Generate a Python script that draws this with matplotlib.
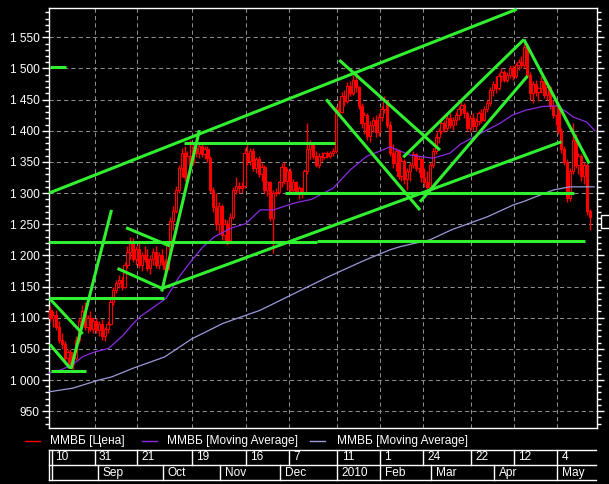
import matplotlib
matplotlib.use('Agg')
import matplotlib.pyplot as plt
from matplotlib.lines import Line2D
from matplotlib.patches import Rectangle
from matplotlib.ticker import MultipleLocator, FixedLocator, FuncFormatter

# ---------------- data (daily candles, bar index 0..189) ----------------
opens = [1112,1100,1105,1085,1065,1058,1035,1045,1025,1035,1065,1095,1110,1085,1100,1082,1095,1080,1090,1070,
         1082,1090,1125,1145,1155,1160,1150,1185,1205,1220,1195,1210,1185,1200,1195,1180,1195,1205,1185,1200,
         1190,1178,1218,1255,1272,1305,1340,1365,1325,1360,1350,1372,1365,1375,1362,1370,1356,1305,1278,1250,
         1280,1232,1250,1225,1262,1305,1312,1308,1312,1365,1352,1368,1340,1355,1330,1342,1305,1318,1260,1300,
         1302,1318,1342,1320,1335,1305,1318,1302,1308,1300,1335,1370,1380,1360,1345,1360,1358,1364,1360,1365,
         1368,1435,1430,1455,1448,1472,1460,1482,1470,1440,1412,1425,1392,1410,1418,1398,1422,1435,1448,1410,
         1365,1348,1368,1328,1352,1322,1335,1345,1362,1340,1355,1325,1318,1310,1345,1368,1390,1400,1412,1405,
         1420,1410,1418,1425,1435,1442,1428,1405,1420,1408,1415,1428,1418,1435,1445,1465,1475,1468,1488,1495,
         1482,1490,1500,1488,1505,1510,1505,1535,1490,1460,1475,1462,1468,1480,1458,1470,1440,1425,1440,1400,
         1370,1350,1292,1335,1385,1345,1360,1328,1345,1272]
highs = [1118,1110,1112,1095,1075,1062,1048,1050,1040,1070,1100,1120,1125,1105,1110,1100,1100,1095,1098,1085,
         1095,1130,1150,1160,1168,1165,1190,1215,1230,1228,1215,1220,1205,1215,1210,1200,1212,1215,1205,1210,
         1195,1222,1262,1280,1312,1345,1372,1375,1368,1385,1378,1385,1380,1382,1376,1375,1360,1310,1300,1285,
         1282,1258,1256,1268,1310,1325,1318,1318,1372,1378,1372,1372,1358,1360,1348,1345,1320,1320,1305,1308,
         1320,1348,1350,1340,1340,1322,1320,1312,1310,1338,1412,1385,1382,1368,1365,1366,1366,1368,1368,1372,
         1440,1450,1462,1465,1478,1480,1490,1492,1472,1445,1430,1428,1415,1422,1425,1428,1440,1455,1450,1415,
         1378,1372,1370,1358,1355,1340,1350,1368,1365,1360,1358,1340,1335,1350,1372,1395,1405,1420,1418,1425,
         1428,1422,1430,1440,1448,1445,1432,1425,1428,1420,1432,1435,1440,1450,1470,1480,1488,1492,1500,1498,
         1495,1505,1505,1508,1515,1520,1545,1540,1495,1480,1482,1470,1488,1485,1475,1472,1450,1445,1442,1405,
         1375,1355,1340,1412,1395,1365,1362,1350,1348,1275]
lows = [1095,1085,1080,1060,1050,1030,1025,1020,1018,1032,1060,1085,1080,1075,1078,1076,1075,1070,1065,1062,
        1075,1088,1120,1140,1148,1145,1148,1180,1195,1190,1185,1180,1175,1190,1175,1170,1185,1180,1178,1185,
        1170,1175,1215,1240,1268,1300,1325,1320,1318,1340,1345,1358,1356,1358,1355,1350,1300,1270,1240,1235,
        1225,1220,1217,1222,1258,1298,1300,1300,1308,1345,1345,1335,1332,1325,1320,1300,1295,1255,1204,1295,
        1298,1310,1315,1305,1300,1300,1298,1290,1292,1298,1330,1355,1355,1342,1340,1352,1355,1356,1356,1360,
        1365,1425,1428,1440,1445,1455,1458,1462,1435,1405,1395,1385,1382,1398,1390,1392,1415,1428,1405,1360,
        1340,1335,1322,1320,1315,1305,1320,1340,1335,1332,1318,1310,1302,1305,1340,1362,1380,1395,1398,1400,
        1405,1402,1410,1418,1425,1420,1400,1398,1402,1400,1410,1412,1415,1430,1440,1455,1460,1465,1478,1478,
        1478,1485,1482,1485,1498,1500,1500,1485,1450,1445,1455,1448,1460,1452,1450,1435,1420,1410,1395,1365,
        1345,1285,1288,1330,1340,1330,1320,1315,1265,1240]
closes = [1100,1105,1085,1065,1058,1035,1045,1025,1035,1065,1095,1110,1085,1100,1082,1095,1080,1090,1070,1082,
          1090,1125,1145,1155,1160,1150,1185,1205,1220,1195,1210,1185,1200,1195,1180,1195,1205,1185,1200,1190,
          1178,1218,1255,1272,1305,1340,1365,1325,1360,1350,1372,1365,1375,1362,1370,1356,1305,1278,1250,1280,
          1232,1250,1225,1262,1305,1312,1308,1312,1365,1352,1368,1340,1355,1330,1342,1305,1318,1260,1300,1302,
          1318,1342,1320,1335,1305,1318,1302,1308,1300,1335,1370,1380,1360,1345,1360,1358,1364,1360,1365,1368,
          1435,1430,1455,1448,1472,1460,1482,1470,1440,1412,1425,1392,1410,1418,1398,1422,1435,1448,1410,1365,
          1348,1368,1328,1352,1322,1335,1345,1362,1340,1355,1325,1318,1310,1345,1368,1390,1400,1412,1405,1420,
          1410,1418,1425,1435,1442,1428,1405,1420,1408,1415,1428,1418,1435,1445,1465,1475,1468,1488,1495,1482,
          1490,1500,1488,1505,1510,1505,1535,1490,1460,1475,1462,1468,1480,1458,1470,1440,1425,1440,1400,1370,
          1350,1292,1335,1385,1345,1360,1328,1345,1272,1262]

# moving averages (bar position, value)
ma_fast_x = [0, 4, 8, 12, 16, 21, 26, 29, 32, 37, 41, 45.5, 50, 54, 58, 64, 69, 74, 78.6, 86, 88, 92,
             99.6, 105.5, 111.3, 119.5, 126.5, 134.5, 140.5, 144, 153.4, 158, 162.3, 167, 173, 177.9,
             181.4, 183.7, 188.4, 191.3]
ma_fast_y = [1011, 1016, 1024, 1038, 1045, 1051, 1072, 1088, 1102, 1118, 1131, 1165, 1192, 1214, 1230, 1244,
             1251, 1273, 1273, 1284, 1286, 1290, 1308, 1337, 1359, 1374, 1361, 1356, 1364, 1378, 1401, 1412,
             1425, 1433, 1439, 1440, 1430, 1422, 1414, 1400]
ma_slow_x = [0, 8.4, 17.5, 22, 29.5, 40.5, 50, 61, 74, 86, 98, 110.5, 119.5, 123, 133.5, 141, 153.6,
             162.7, 166, 176.7, 182.5, 191]
ma_slow_y = [981, 987, 1000, 1005, 1019, 1037, 1066, 1091, 1112, 1139, 1166, 1192, 1209, 1214, 1225, 1241,
             1262, 1281, 1286, 1305, 1310, 1310]

# hand-drawn trend lines (x0, y0, x1, y1) in bar / price units
trendlines = [
    (0, 1300, 163.9, 1595), (0.3, 1502, 5.8, 1502), (47.3, 1381, 100.1, 1381),
    (0, 1222, 94, 1222), (94, 1223.5, 187.7, 1223.5), (82.6, 1299.5, 183.9, 1299.5),
    (0, 1131, 40.3, 1131), (0.6, 1015, 13.1, 1015), (0.35, 1130, 11.8, 1074),
    (0.35, 1057, 7.4, 1019), (7.7, 1017.6, 21.9, 1273), (27.0, 1244.4, 42.4, 1215),
    (24.0, 1179, 39.6, 1147), (39.6, 1147, 179.5, 1382.3), (39.5, 1142, 52.7, 1401),
    (97.1, 1450.3, 130, 1272.7), (101.7, 1513.4, 137, 1369), (124.1, 1357.5, 166.4, 1546.5),
    (130, 1286, 167.7, 1488), (166.4, 1546.5, 189.3, 1347.5),
]

date_ticks = [0, 16, 31, 50, 69, 84, 101, 116, 131, 148, 163, 178]
date_labels = ["10", "31", "21", "19", "16", "7", "11", "1", "24", "22", "12", "4"]
month_ticks = [17, 40, 60, 81, 101, 116, 134, 156, 178]
month_labels = ["Sep", "Oct", "Nov", "Dec", "2010", "Feb", "Mar", "Apr", "May"]
y_major = [950, 1000, 1050, 1100, 1150, 1200, 1250, 1300, 1350, 1400, 1450, 1500, 1550]
legend_labels = ["ММВБ [Цена]", "ММВБ [Moving Average]", "ММВБ [Moving Average]"]

# ---------------- styling ----------------
W, H = 609, 484
FONT = "Liberation Sans"
RED = "#ff0000"
PURPLE = "#8a2be2"
LAVENDER = "#9a9ad8"
GREEN = "#30f030"
GRID = "#8c8c8c"

fig = plt.figure(figsize=(W / 100, H / 100), dpi=100, facecolor="black")

def fx(px):
    return px / W

def fy(py):
    return (H - py) / H

ax = fig.add_axes([fx(49), fy(428), fx(597) - fx(49), fy(8) - fy(428)], facecolor="black")
ax.set_xlim(0, 192)
ax.set_ylim(923, 1597)

# grid
for t in date_ticks[1:]:
    ax.axvline(t, color=GRID, lw=0.75, ls=(0, (4, 3)), zorder=1)
for v in y_major:
    ax.axhline(v, color=GRID, lw=0.75, ls=(0, (4, 3)), zorder=1)

# candles
xs = [i + 0.5 for i in range(len(closes))]
ax.vlines(xs, lows, highs, color=RED, lw=1.0, zorder=3)
bottoms = [min(o, c) for o, c in zip(opens, closes)]
heights = [max(abs(c - o), 1.5) for o, c in zip(opens, closes)]
faces = ["black" if c > o else RED for o, c in zip(opens, closes)]
ax.bar(xs, heights, bottom=bottoms, width=0.8, color=faces, edgecolor=RED, lw=0.8, zorder=4)

# moving averages
ax.plot(ma_slow_x, ma_slow_y, color=LAVENDER, lw=0.9, zorder=5)
ax.plot(ma_fast_x, ma_fast_y, color=PURPLE, lw=0.9, zorder=5)

# trend lines
for x0, y0, x1, y1 in trendlines:
    ax.plot([x0, x1], [y0, y1], color=GREEN, lw=2.2, solid_capstyle="butt", zorder=6, clip_on=True)

# axes frame & ticks
for s in ax.spines.values():
    s.set_color("white")
    s.set_linewidth(1.0)
ax.yaxis.set_major_locator(FixedLocator(y_major))
ax.yaxis.set_minor_locator(MultipleLocator(10))
ax.yaxis.set_major_formatter(FuncFormatter(lambda v, p: "{:,}".format(int(v)).replace(",", " ")))
ax.tick_params(axis="y", which="major", direction="out", length=5, width=1, color="white",
               labelcolor="white", labelsize=8.6, left=True, right=True, labelright=False, pad=2)
ax.tick_params(axis="y", which="minor", direction="out", length=3, width=1, color="white",
               left=True, right=True)
for lab in ax.get_yticklabels():
    lab.set_fontfamily(FONT)
ax.set_xticks([])

# ---------------- legend row ----------------
ly = fy(441)
leg_items = [(25, 40, 50, RED), (142, 157, 167, PURPLE), (310, 325, 337, LAVENDER)]
for (x0, x1, tx, col), lab in zip(leg_items, legend_labels):
    fig.add_artist(Line2D([fx(x0), fx(x1)], [ly, ly], color=col, lw=1.0, transform=fig.transFigure))
    fig.text(fx(tx), ly, lab, color="white", fontsize=8.6, family=FONT, va="center", ha="left")

# ---------------- date boxes ----------------
bx = fig.add_axes([fx(49), fy(480), fx(597) - fx(49), fy(450) - fy(480)])
bx.set_xlim(0, 192)
bx.set_ylim(0, 2)
bx.axis("off")
right_end = 191.6
for yv in (0, 1, 2):
    bx.plot([0, right_end], [yv, yv], color="white", lw=1.0, clip_on=False)
for xv in (0, 1.05):
    bx.plot([xv, xv], [0, 2], color="white", lw=1.0, clip_on=False)
for t, lab in zip(date_ticks, date_labels):
    if t > 0:
        bx.plot([t, t], [1, 2], color="white", lw=1.0, clip_on=False)
    bx.text(t + (2.1 if t == 0 else 1.5), 1.5, lab, color="white", fontsize=8.6, family=FONT,
            va="center", ha="left")
for t, lab in zip(month_ticks, month_labels):
    bx.plot([t, t], [0, 1], color="white", lw=1.0, clip_on=False)
    bx.text(t + 1.6, 0.48, lab, color="white", fontsize=8.6, family=FONT, va="center", ha="left")

# last-price marker box at right edge
fig.add_artist(Rectangle((fx(601), fy(228)), fx(12), fy(215) - fy(228), transform=fig.transFigure,
                         facecolor="black", edgecolor="white", lw=1.0))

fig.savefig("out.png", dpi=100, facecolor="black")
